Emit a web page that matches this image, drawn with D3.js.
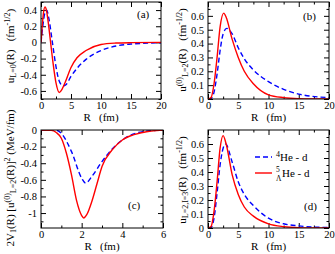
<!DOCTYPE html>
<html>
<head>
<meta charset="utf-8">
<script src="https://cdn.jsdelivr.net/npm/d3@7"></script>
<style>
  body { margin: 0; background: #fff; }
  svg text { font-family: "Liberation Serif", "Times New Roman", serif; fill: #000; }
</style>
</head>
<body>
<svg id="chart" width="335" height="254"></svg>
<script>
// panel (a): u_{L=0}(R)
var aR_red  = [0, 0.2, 0.4, 0.67, 0.9, 1.2, 1.6, 2.0, 2.5, 3.05, 3.5, 4, 5, 6, 7.5, 10, 12.5, 15, 20];
var aU_red  = [0, 0.2, 0.36, 0.44, 0.40, 0.25, 0, -0.25, -0.5, -0.62, -0.58, -0.5, -0.31, -0.19, -0.1, -0.025, -0.008, -0.003, 0];
var aR_blue = [0, 0.3, 0.6, 0.95, 1.3, 1.9, 2.5, 3, 3.7, 4.2, 5, 6, 7.5, 10, 12.5, 15, 20];
var aU_blue = [0, 0.2, 0.35, 0.40, 0.3, 0, -0.3, -0.47, -0.54, -0.52, -0.42, -0.32, -0.21, -0.1, -0.045, -0.02, -0.005];

// panel (b): u^(0)_{L=2}(R)
var bR_red  = [0, 0.5, 1, 1.5, 2, 2.6, 3, 4, 5, 6, 7.5, 10, 12.5, 15, 20];
var bU_red  = [0, 0.01, 0.11, 0.3, 0.52, 0.62, 0.59, 0.43, 0.3, 0.2, 0.11, 0.03, 0.01, 0.003, 0];
var bR_blue = [0, 0.5, 1, 1.5, 2, 2.5, 3.1, 4, 5, 6, 7.5, 10, 12.5, 15, 20];
var bU_blue = [0, 0.005, 0.05, 0.18, 0.35, 0.47, 0.51, 0.47, 0.37, 0.29, 0.21, 0.125, 0.07, 0.035, 0.01];

// panel (c): 2V1(R)[u^(0)]^2
var cR_red  = [0, 0.5, 0.75, 1, 1.25, 1.5, 1.75, 2, 2.1, 2.25, 2.5, 2.75, 3, 3.5, 4, 5, 6];
var cV_red  = [0, -0.005, -0.03, -0.1, -0.28, -0.54, -0.85, -1.03, -1.06, -1.02, -0.86, -0.65, -0.44, -0.24, -0.12, -0.03, 0];
var cR_blue = [0, 0.7, 1, 1.5, 2, 2.2, 2.5, 3, 3.5, 4, 5, 6];
var cV_blue = [0, 0, -0.04, -0.26, -0.58, -0.64, -0.56, -0.38, -0.23, -0.12, -0.02, 0];

// panel (d): u_{L=2,I=3}(R)
var dR_red  = [0, 0.5, 1, 1.5, 2, 2.5, 3, 4, 5, 6, 7.5, 10, 12.5, 15, 20];
var dU_red  = [0, 0.01, 0.12, 0.33, 0.57, 0.66, 0.60, 0.38, 0.24, 0.15, 0.085, 0.03, 0.01, 0.003, 0];
var dR_blue = [0, 0.5, 1, 1.5, 2, 2.5, 2.9, 4, 5, 6, 7.5, 10, 12.5, 15, 20];
var dU_blue = [0, 0.005, 0.07, 0.25, 0.45, 0.57, 0.60, 0.47, 0.33, 0.24, 0.16, 0.07, 0.03, 0.015, 0.003];

// tick labels
var xTicks20 = [0, 5, 10, 15, 20];
var xTicks6  = [0, 2, 4, 6];
var yTicksA  = [-0.6, -0.4, -0.2, 0, 0.2, 0.4];
var yTicksB  = [0, 0.1, 0.2, 0.3, 0.4, 0.5, 0.6];
var yTicksC  = [-1, -0.8, -0.6, -0.4, -0.2, 0];

var legendNames = ["He - d", "He - d"];

var SERIF = "'Liberation Serif', 'Times New Roman', serif";
var svg = d3.select("#chart").attr("font-family", SERIF);

function zip(xs, ys) {
  return xs.map(function(x, i) { return [x, ys[i]]; });
}

function panel(cfg) {
  var x = d3.scaleLinear().domain(cfg.xd).range([cfg.left, cfg.right]);
  var y = d3.scaleLinear().domain(cfg.yd).range([cfg.bottom, cfg.top]);
  var g = svg.append("g");

  var fmt = function(d) { return d === 0 ? "0" : String(d); };

  // major + minor ticks, inside on all sides
  var bot = d3.axisBottom(x).tickValues(cfg.xt).tickSize(-5).tickPadding(3).tickFormat(fmt);
  var botMin = d3.axisBottom(x).tickValues(cfg.xm).tickSize(-2.5).tickFormat("");
  var top = d3.axisTop(x).tickValues(cfg.xt).tickSize(-5).tickFormat("");
  var topMin = d3.axisTop(x).tickValues(cfg.xm).tickSize(-2.5).tickFormat("");
  var lef = d3.axisLeft(y).tickValues(cfg.yt).tickSize(-5).tickPadding(4).tickFormat(fmt);
  var lefMin = d3.axisLeft(y).tickValues(cfg.ym).tickSize(-2.5).tickFormat("");
  var rig = d3.axisRight(y).tickValues(cfg.yt).tickSize(-5).tickFormat("");
  var rigMin = d3.axisRight(y).tickValues(cfg.ym).tickSize(-2.5).tickFormat("");

  [[bot, "0," + cfg.bottom], [botMin, "0," + cfg.bottom], [top, "0," + cfg.top], [topMin, "0," + cfg.top],
   [lef, cfg.left + ",0"], [lefMin, cfg.left + ",0"], [rig, cfg.right + ",0"], [rigMin, cfg.right + ",0"]]
    .forEach(function(a) {
      var ag = g.append("g").attr("transform", "translate(" + a[1] + ")").call(a[0])
        .attr("font-family", SERIF).attr("font-size", 10.5);
      ag.select(".domain").remove();
      ag.selectAll("text").attr("fill", "#000");
    });

  var clipId = "clip" + cfg.tag;
  g.append("clipPath").attr("id", clipId).append("rect")
    .attr("x", cfg.left).attr("y", cfg.top)
    .attr("width", cfg.right - cfg.left).attr("height", cfg.bottom - cfg.top);

  var line = d3.line().x(function(d) { return x(d[0]); }).y(function(d) { return y(d[1]); })
    .curve(d3.curveMonotoneX);

  g.append("path").datum(zip(cfg.rb, cfg.vb)).attr("d", line)
    .attr("clip-path", "url(#" + clipId + ")")
    .attr("fill", "none").attr("stroke", "#0000ff").attr("stroke-width", 1.4)
    .attr("stroke-dasharray", "5,3");
  g.append("path").datum(zip(cfg.rr, cfg.vr)).attr("d", line)
    .attr("clip-path", "url(#" + clipId + ")")
    .attr("fill", "none").attr("stroke", "#ff0000").attr("stroke-width", 1.4);

  g.append("rect")
    .attr("x", cfg.left).attr("y", cfg.top)
    .attr("width", cfg.right - cfg.left).attr("height", cfg.bottom - cfg.top)
    .attr("fill", "none").attr("stroke", "#000").attr("stroke-width", 1);

  // panel tag
  g.append("text").attr("x", cfg.tagX).attr("y", cfg.tagY)
    .style("font-size", "11px").text("(" + cfg.tag + ")");

  // x label
  g.append("text").attr("x", (cfg.left + cfg.right) / 2).attr("y", cfg.bottom + 22)
    .attr("text-anchor", "middle").style("font-size", "11px")
    .attr("xml:space", "preserve").text("R   (fm)");

  // y label
  var yl = g.append("text")
    .attr("transform", "translate(" + cfg.ylX + "," + cfg.ylY + ") rotate(-90)")
    .attr("text-anchor", "middle").style("font-size", "11px")
    .attr("xml:space", "preserve");
  cfg.ylab.forEach(function(p) {
    var t = yl.append("tspan").text(p[0]);
    if (p[1] === "sub") t.attr("baseline-shift", "-25%").style("font-size", "8px");
    if (p[1] === "sup") t.attr("baseline-shift", "45%").style("font-size", "8px");
  });

  return {x: x, y: y, g: g};
}

panel({
  tag: "a", left: 41, right: 161, top: 2, bottom: 99,
  xd: [0, 20], yd: [-0.7, 0.5],
  xt: xTicks20, xm: [2.5, 7.5, 12.5, 17.5],
  yt: yTicksA, ym: [-0.7, -0.5, -0.3, -0.1, 0.1, 0.3, 0.5],
  rr: aR_red, vr: aU_red, rb: aR_blue, vb: aU_blue,
  tagX: 137, tagY: 18, ylX: 14, ylY: 46,
  ylab: [["u", ""], ["L=0", "sub"], ["(R)   (fm", ""], ["-1/2", "sup"], [")", ""]]
});

panel({
  tag: "b", left: 208, right: 329, top: 2, bottom: 99,
  xd: [0, 20], yd: [0, 0.7],
  xt: xTicks20, xm: [2.5, 7.5, 12.5, 17.5],
  yt: yTicksB, ym: [0.05, 0.15, 0.25, 0.35, 0.45, 0.55, 0.65],
  rr: bR_red, vr: bU_red, rb: bR_blue, vb: bU_blue,
  tagX: 303, tagY: 20, ylX: 186, ylY: 50,
  ylab: [["u", ""], ["(0)", "sup"], ["L=2", "sub"], ["(R)   (fm", ""], ["-1/2", "sup"], [")", ""]]
});

panel({
  tag: "c", left: 41, right: 163, top: 130, bottom: 228,
  xd: [0, 6], yd: [-1.18, 0],
  xt: xTicks6, xm: [1, 3, 5],
  yt: yTicksC, ym: [-1.1, -0.9, -0.7, -0.5, -0.3, -0.1],
  rr: cR_red, vr: cV_red, rb: cR_blue, vb: cV_blue,
  tagX: 128, tagY: 209, ylX: 14, ylY: 178,
  ylab: [["2V", ""], ["1", "sub"], ["(R) [u", ""], ["(0)", "sup"], ["L=2", "sub"], ["(R)]", ""], ["2", "sup"], [" (MeV/fm)", ""]]
});

panel({
  tag: "d", left: 208, right: 329, top: 130, bottom: 228,
  xd: [0, 20], yd: [0, 0.7],
  xt: xTicks20, xm: [2.5, 7.5, 12.5, 17.5],
  yt: yTicksB, ym: [0.05, 0.15, 0.25, 0.35, 0.45, 0.55, 0.65],
  rr: dR_red, vr: dU_red, rb: dR_blue, vb: dU_blue,
  tagX: 304, tagY: 210, ylX: 186, ylY: 180,
  ylab: [["u", ""], ["L=2,I=3", "sub"], ["(R)   (fm", ""], ["-1/2", "sup"], [")", ""]]
});

// legend
var lg = svg.append("g");
lg.append("line").attr("x1", 255).attr("x2", 272).attr("y1", 157).attr("y2", 157)
  .attr("stroke", "#0000ff").attr("stroke-width", 1.4).attr("stroke-dasharray", "5,3");
lg.append("line").attr("x1", 255).attr("x2", 272).attr("y1", 173).attr("y2", 173)
  .attr("stroke", "#ff0000").attr("stroke-width", 1.4);
var t1 = lg.append("text").attr("x", 276).attr("y", 161).style("font-size", "11px").attr("xml:space", "preserve");
t1.append("tspan").attr("baseline-shift", "45%").style("font-size", "8px").text("4");
t1.append("tspan").text(legendNames[0]);
lg.append("text").attr("x", 276).attr("y", 172).style("font-size", "7.5px").text("5");
lg.append("text").attr("x", 276).attr("y", 181).style("font-size", "7.5px").text("\u039B");
lg.append("text").attr("x", 282).attr("y", 177).style("font-size", "11px").text(legendNames[1]);
</script>
</body>
</html>
